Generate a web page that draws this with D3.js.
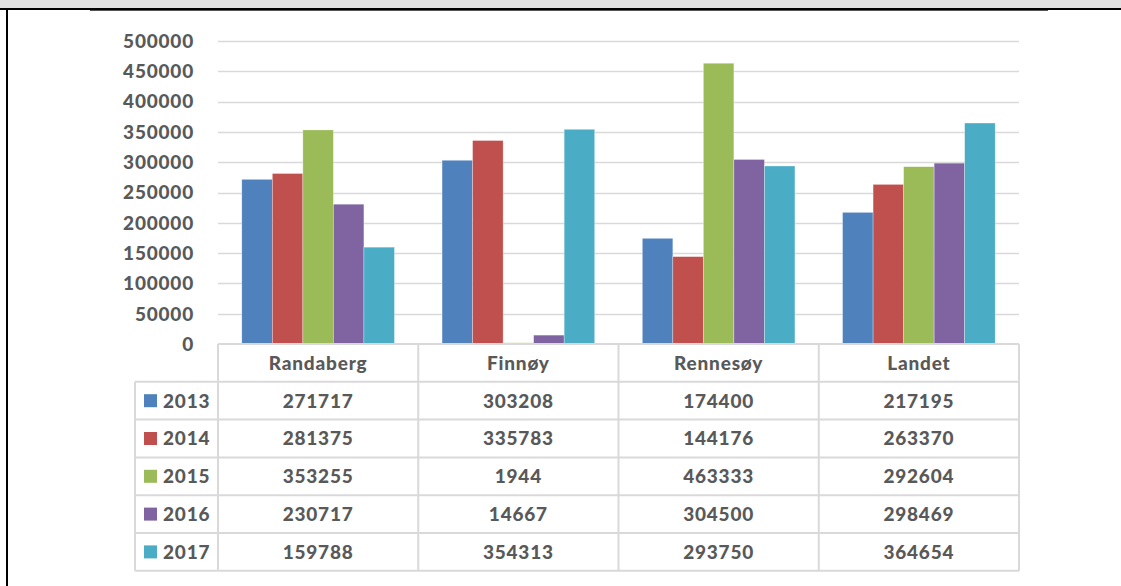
<!DOCTYPE html>
<meta charset="utf-8">
<head>
    <title>Randaberg, Finnøy, Rennesøy, Landet 2013-2017</title>
</head>
<script src="https://d3js.org/d3.v7.min.js"></script>
<style>
  body { margin: 0; background: #fff; }
  text { font-family: Lato, "Open Sans", sans-serif; font-weight: 900; fill: #595959; }
</style>
<div id="my_dataviz"></div>
<script>

var categories = ["Randaberg", "Finnøy", "Rennesøy", "Landet"];
var years = ["2013", "2014", "2015", "2016", "2017"];
var s2013 = [271717, 303208, 174400, 217195];
var s2014 = [281375, 335783, 144176, 263370];
var s2015 = [353255, 1944, 463333, 292604];
var s2016 = [230717, 14667, 304500, 298469];
var s2017 = [159788, 354313, 293750, 364654];
var colors = ["#4f81bd", "#c0504d", "#9bbb59", "#8064a2", "#4bacc6"];

var series = [s2013, s2014, s2015, s2016, s2017];

var width = 1121,
    height = 586;

var svg = d3.select("#my_dataviz")
  .append("svg")
    .attr("width", width)
    .attr("height", height);

// window frame bits from the screenshot
svg.append("rect").attr("x", 0).attr("y", 0).attr("width", width).attr("height", 8).attr("fill", "#e0e0e0");
svg.append("rect").attr("x", 0).attr("y", 8).attr("width", width).attr("height", 2).attr("fill", "#000");
svg.append("rect").attr("x", 90).attr("y", 10).attr("width", 958).attr("height", 1).attr("fill", "#555");
svg.append("rect").attr("x", 6).attr("y", 8).attr("width", 2).attr("height", height).attr("fill", "#000");

// plot area
var plotLeft = 218, plotRight = 1019, plotTop = 41, plotBottom = 344;

var x0 = d3.scaleBand()
    .domain(categories)
    .range([plotLeft, plotRight])
    .padding(0);

var x1 = d3.scaleBand()
    .domain(years)
    .range([0, x0.bandwidth()])
    .paddingInner(0)
    .paddingOuter(0.78);

var y = d3.scaleLinear()
    .domain([0, 500000])
    .range([plotBottom, plotTop]);

// gridlines
svg.append("g")
  .selectAll("line")
  .data(y.ticks(10).filter(function(d) { return d > 0; }))
  .enter().append("line")
    .attr("x1", plotLeft)
    .attr("x2", plotRight)
    .attr("y1", function(d) { return Math.round(y(d)) + 0.5; })
    .attr("y2", function(d) { return Math.round(y(d)) + 0.5; })
    .attr("stroke", "#d9d9d9")
    .attr("stroke-width", 1.5);

// y axis labels
svg.append("g")
  .selectAll("text")
  .data(y.ticks(10))
  .enter().append("text")
    .attr("x", 194)
    .attr("y", function(d) { return y(d); })
    .attr("dy", "0.36em")
    .attr("text-anchor", "end")
    .style("font-size", "19px")
    .style("letter-spacing", "0.8px")
    .text(function(d) { return d; });

// bars
var groups = svg.append("g")
  .selectAll("g")
  .data(categories)
  .enter().append("g")
    .attr("transform", function(d) { return "translate(" + x0(d) + ",0)"; });

groups.selectAll("rect")
  .data(function(d, i) {
    return years.map(function(yr, j) { return {year: yr, value: series[j][i], color: colors[j]}; });
  })
  .enter().append("rect")
    .attr("x", function(d) { return x1(d.year); })
    .attr("width", x1.bandwidth())
    .attr("y", function(d) { return y(d.value); })
    .attr("height", function(d) { return y(0) - y(d.value); })
    .attr("fill", function(d) { return d.color; })
    .attr("stroke", "rgba(255,255,255,0.5)")
    .attr("stroke-width", 0.6);

// data table
var tableLeft = 135;
var rowH = 37.8;
var rowY = function(i) { return plotBottom + i * rowH; }; // row 0 = header
var lineColor = "#d9d9d9";
var table = svg.append("g");

// horizontal lines
for (var i = 0; i <= years.length + 1; i++) {
  table.append("line")
    .attr("x1", i === 0 ? plotLeft : tableLeft)
    .attr("x2", plotRight)
    .attr("y1", rowY(i))
    .attr("y2", rowY(i))
    .attr("stroke", lineColor)
    .attr("stroke-width", 2);
}
// vertical lines
table.append("line")
  .attr("x1", tableLeft).attr("x2", tableLeft)
  .attr("y1", rowY(1)).attr("y2", rowY(years.length + 1))
  .attr("stroke", lineColor).attr("stroke-width", 2);
categories.forEach(function(c) {
  table.append("line")
    .attr("x1", x0(c)).attr("x2", x0(c))
    .attr("y1", rowY(0)).attr("y2", rowY(years.length + 1))
    .attr("stroke", lineColor).attr("stroke-width", 2);
});
table.append("line")
  .attr("x1", plotRight).attr("x2", plotRight)
  .attr("y1", rowY(0)).attr("y2", rowY(years.length + 1))
  .attr("stroke", lineColor).attr("stroke-width", 2);

// header
table.selectAll(".hdr")
  .data(categories)
  .enter().append("text")
    .attr("class", "hdr")
    .attr("x", function(d) { return x0(d) + x0.bandwidth() / 2; })
    .attr("y", rowY(0) + rowH / 2)
    .attr("dy", "0.36em")
    .attr("text-anchor", "middle")
    .style("font-size", "19px")
    .style("letter-spacing", "0.8px")
    .text(function(d) { return d; });

// rows
years.forEach(function(yr, j) {
  var cy = rowY(j + 1) + rowH / 2;
  table.append("rect")
    .attr("x", 144).attr("y", cy - 6.5)
    .attr("width", 13).attr("height", 13)
    .attr("fill", colors[j]);
  table.append("text")
    .attr("x", 163).attr("y", cy)
    .attr("dy", "0.36em")
    .style("font-size", "19px")
    .style("letter-spacing", "0.8px")
    .text(yr);
  table.selectAll(".v" + yr)
    .data(series[j])
    .enter().append("text")
      .attr("x", function(d, i) { return x0(categories[i]) + x0.bandwidth() / 2; })
      .attr("y", cy)
      .attr("dy", "0.36em")
      .attr("text-anchor", "middle")
      .style("font-size", "19px")
      .style("letter-spacing", "0.8px")
      .text(function(d) { return d; });
});

</script>
